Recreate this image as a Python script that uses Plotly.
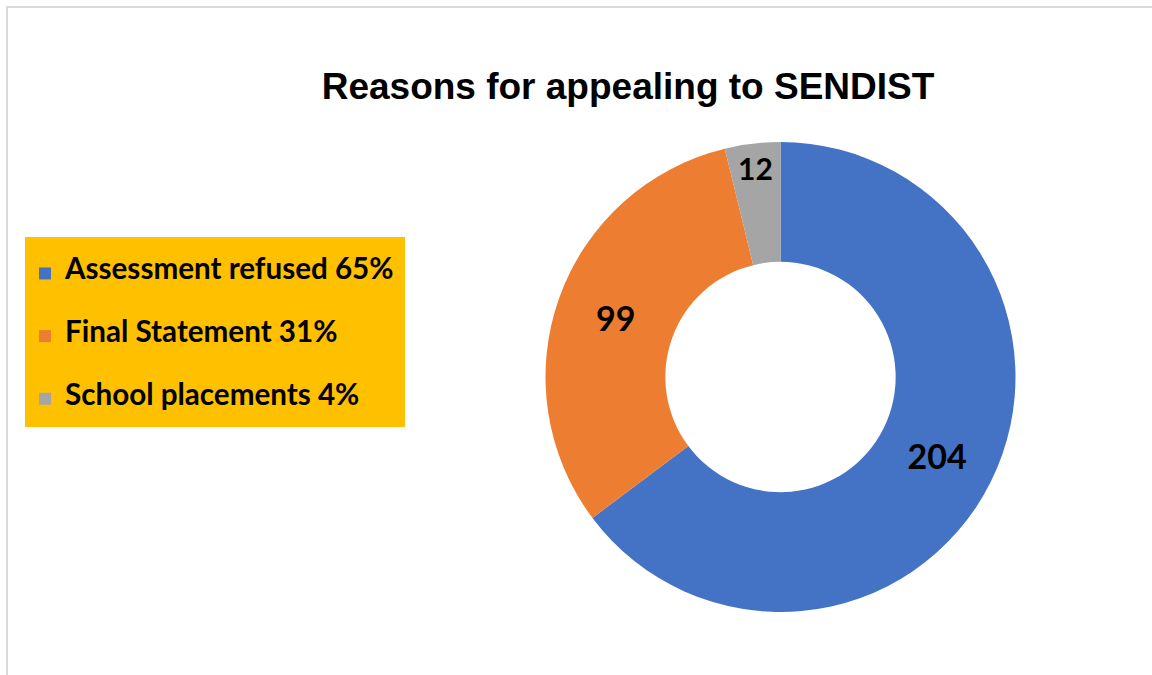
import plotly.graph_objects as go

categories = ["Assessment refused", "Final Statement", "School placements"]
values = [204, 99, 12]
colors = ["#4472C4", "#ED7D31", "#A5A5A5"]

total = sum(values)
legend_labels = [
    f"<span style='font-size:29.6px'>{c} {round(v * 100 / total)}%</span><br> <br> "
    for c, v in zip(categories, values)
]

W, H = 1152, 675
cx, cy, r = 780.5, 377, 235

fig = go.Figure(go.Pie(
    labels=legend_labels,
    values=values,
    text=[str(v) for v in values],
    textinfo="text",
    textposition="inside",
    insidetextorientation="horizontal",
    textfont=dict(family="Lato", size=34, color="black", weight="bold"),
    hole=0.49,
    sort=False,
    direction="clockwise",
    rotation=0,
    marker=dict(colors=colors, line=dict(color="white", width=0)),
    domain=dict(x=[(cx - r) / W, (cx + r) / W], y=[1 - (cy + r) / H, 1 - (cy - r) / H]),
    showlegend=True,
))

fig.update_layout(
    width=W, height=H,
    margin=dict(l=0, r=0, t=0, b=0),
    paper_bgcolor="white",
    title=dict(text="<b>Reasons for appealing to SENDIST</b>", x=628 / W, xanchor="center",
               y=1 - 86 / H, yanchor="middle",
               font=dict(family="Liberation Sans", size=37, color="black")),
    legend=dict(
        x=25 / W, y=1 - 257 / H, xanchor="left", yanchor="top",
        bgcolor="rgba(0,0,0,0)",
        font=dict(family="Lato", size=15.3, color="black", weight="bold"),
        valign="top",
        itemclick=False,
    ),
    shapes=[
        dict(type="rect", xref="paper", yref="paper",
             x0=7 / W, x1=1.02, y0=-0.02, y1=1 - 7 / H,
             line=dict(color="#D9D9D9", width=2), fillcolor="rgba(0,0,0,0)", layer="below"),
        dict(type="rect", xref="paper", yref="paper",
             x0=25 / W, x1=405 / W, y0=1 - 427 / H, y1=1 - 237 / H,
             line=dict(width=0), fillcolor="#FFC000", layer="below"),
    ],
)

fig.write_html("out.html")
